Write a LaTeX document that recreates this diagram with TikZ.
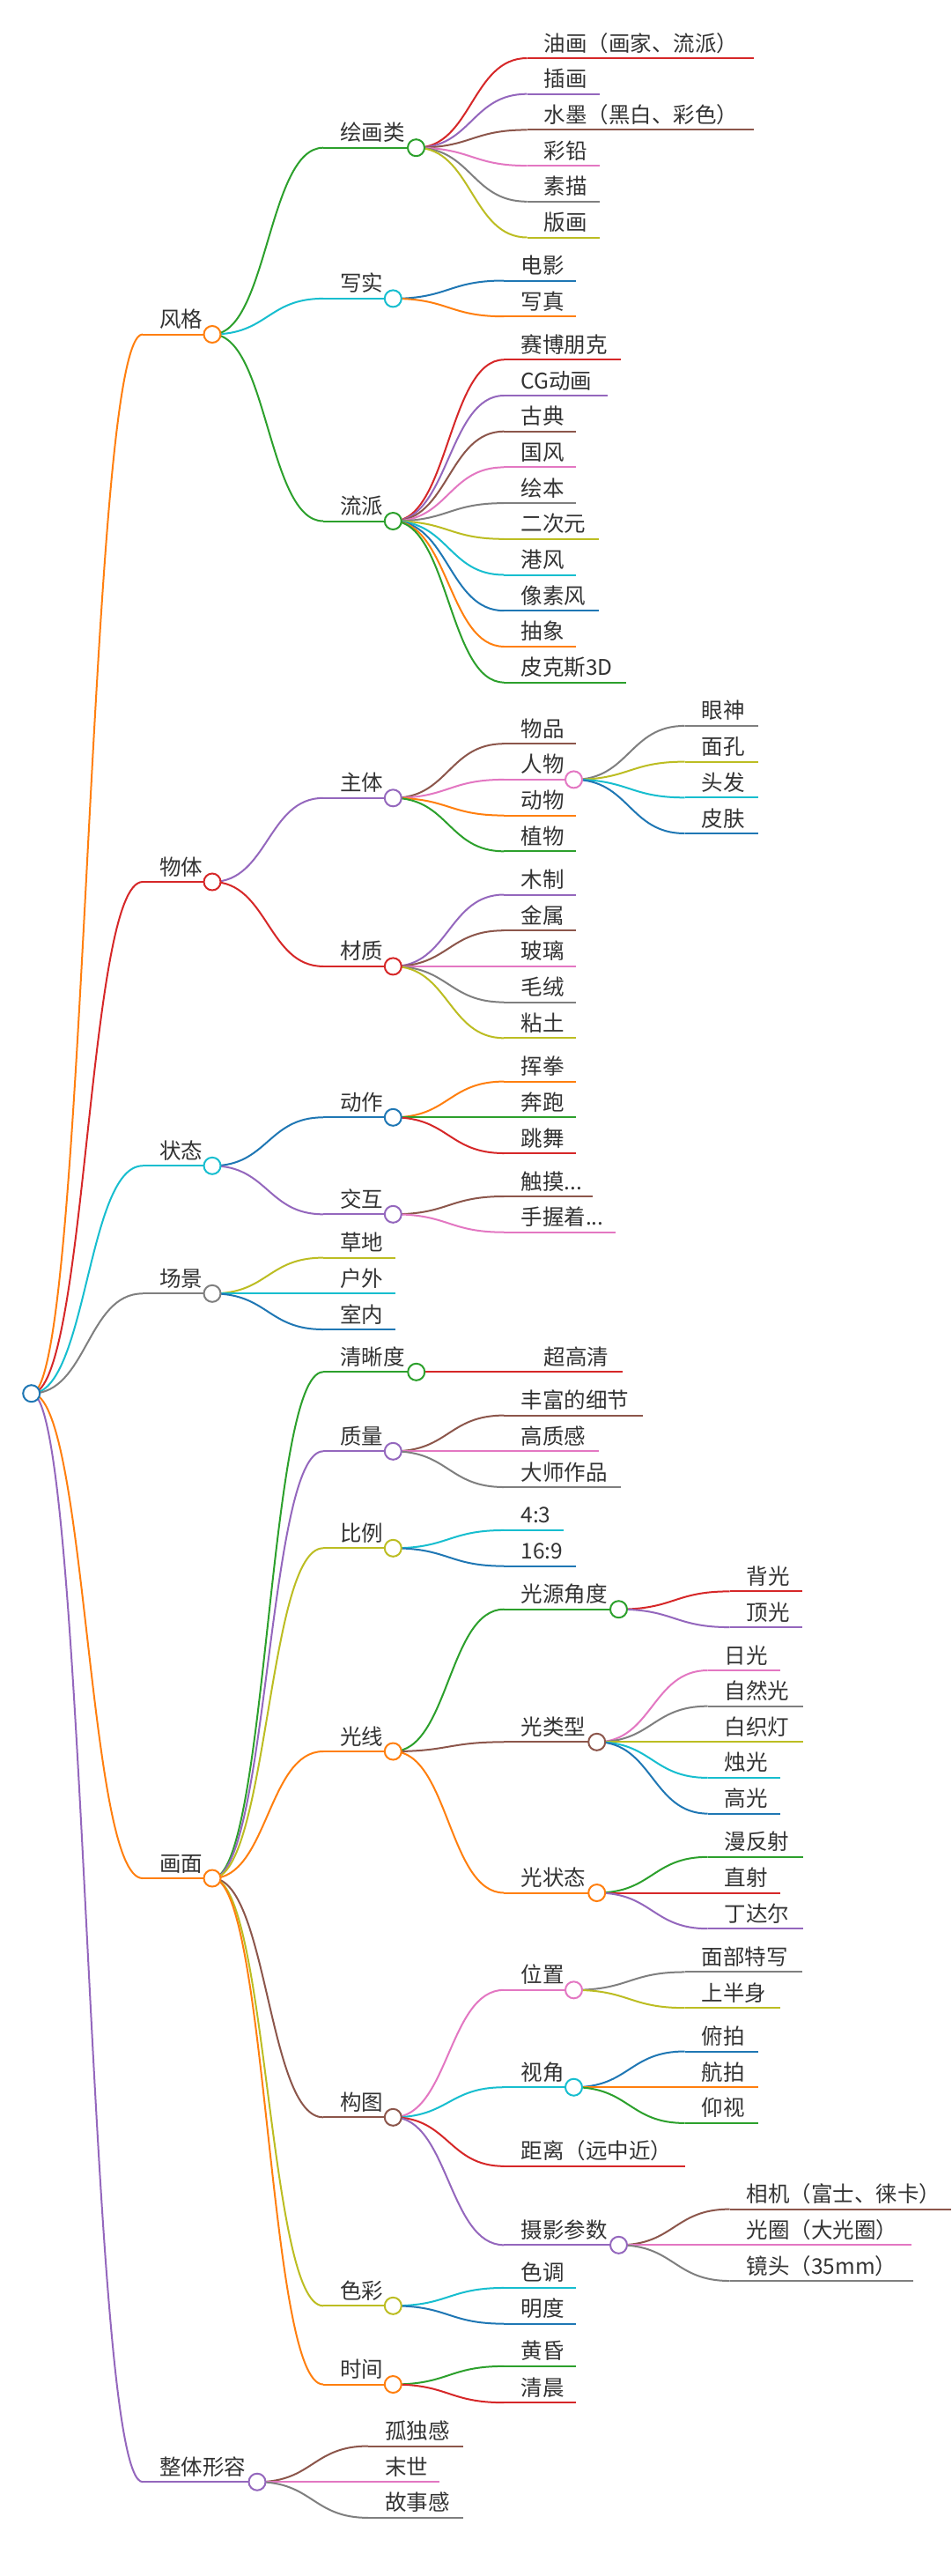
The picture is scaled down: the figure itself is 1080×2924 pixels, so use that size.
\documentclass[tikz,border=0pt]{standalone}
\usepackage{fontspec}
\newfontfamily\cjkfont{Noto Sans CJK SC}
\usetikzlibrary{calc}
\pgfdeclarelayer{back}
\pgfdeclarelayer{bg}
\pgfsetlayers{back,bg,main}
\definecolor{cblue}{HTML}{1F77B4}
\definecolor{corange}{HTML}{FF7F0E}
\definecolor{cgreen}{HTML}{2CA02C}
\definecolor{cred}{HTML}{D62728}
\definecolor{cpurple}{HTML}{9467BD}
\definecolor{cbrown}{HTML}{8C564B}
\definecolor{cpink}{HTML}{E377C2}
\definecolor{cgray}{HTML}{7F7F7F}
\definecolor{colive}{HTML}{BCBD22}
\definecolor{ccyan}{HTML}{17BECF}
\definecolor{textgray}{HTML}{333333}
\tikzset{
  mmtext/.style={anchor=base west, inner sep=0pt, text=textgray, font=\cjkfont\fontsize{24.5}{28}\selectfont},
  mmdot/.style={circle, fill=white, line width=2pt, minimum size=19pt, inner sep=0pt},
  mmline/.style={line width=2pt, line join=round}
}
% internal node: name, startx, y, circle x, colour, label
\newcommand\mmint[6]{%
  \coordinate (#1-s) at (#2,#3);
  \node[mmtext] (#1-t) at (#2+19,#3-8) {#6};
  \node[mmdot,draw=#5] (#1) at (#4,#3) {};
  \begin{pgfonlayer}{bg}\draw[mmline,#5] (#1-s) -- (#1.center);\end{pgfonlayer}%
}
% leaf: name, startx, y, end x, colour, label
\newcommand\mmleaf[6]{%
  \coordinate (#1-s) at (#2,#3);
  \coordinate (#1-e) at (#4,#3);
  \node[mmtext] (#1-t) at (#2+19,#3-8) {#6};
  \begin{pgfonlayer}{bg}\draw[mmline,#5] (#1-s) -- (#1-e);\end{pgfonlayer}%
}
% link: parent, child, colour
\newcommand\mmlink[3]{%
  \begin{pgfonlayer}{bg}\draw[mmline,#3] let \p1=(#1.center), \p2=(#2-s) in
    (\p1) .. controls ({0.5*\x1+0.5*\x2},\y1) and ({0.5*\x1+0.5*\x2},\y2) .. (\p2);\end{pgfonlayer}%
}
\begin{document}
\begin{tikzpicture}[x=1pt,y=-1pt]
\begin{pgfonlayer}{back}
\fill[white] (0,0) rectangle (1080,2924);
\end{pgfonlayer}
\useasboundingbox (0,0) rectangle (1080,2924);

\node[mmdot,draw=cblue] (root) at (35.7,1581.7) {};

% level 1
\mmint{A}{162}{379.5}{241}{corange}{风格}
\mmint{B}{162}{1001}{241}{cred}{物体}
\mmint{C}{162}{1323.3}{241}{ccyan}{状态}
\mmint{D}{162}{1468.3}{241}{cgray}{场景}
\mmint{E}{162}{2132}{241}{corange}{画面}
\mmint{F}{162}{2817.2}{292}{cpurple}{整体形容}
\mmlink{root}{A}{corange}
\mmlink{root}{B}{cred}
\mmlink{root}{C}{ccyan}
\mmlink{root}{D}{cgray}
\mmlink{root}{E}{corange}
\mmlink{root}{F}{cpurple}

% 风格
\mmint{A1}{367}{167.7}{472.5}{cgreen}{绘画类}
\mmint{A2}{367}{338.9}{446.3}{ccyan}{写实}
\mmint{A3}{367}{591.5}{446.3}{cgreen}{流派}
\mmlink{A}{A1}{cgreen}
\mmlink{A}{A2}{ccyan}
\mmlink{A}{A3}{cgreen}

\mmleaf{A1a}{598.5}{66.0}{856}{cred}{油画（画家、流派）}
\mmleaf{A1b}{598.5}{106.7}{681}{cpurple}{插画}
\mmleaf{A1c}{598.5}{147.4}{856}{cbrown}{水墨（黑白、彩色）}
\mmleaf{A1d}{598.5}{188.1}{681}{cpink}{彩铅}
\mmleaf{A1e}{598.5}{228.8}{681}{cgray}{素描}
\mmleaf{A1f}{598.5}{269.5}{681}{colive}{版画}
\mmlink{A1}{A1a}{cred}
\mmlink{A1}{A1b}{cpurple}
\mmlink{A1}{A1c}{cbrown}
\mmlink{A1}{A1d}{cpink}
\mmlink{A1}{A1e}{cgray}
\mmlink{A1}{A1f}{colive}

\mmleaf{A2a}{572.3}{318.5}{654}{cblue}{电影}
\mmleaf{A2b}{572.3}{359.2}{654}{corange}{写真}
\mmlink{A2}{A2a}{cblue}
\mmlink{A2}{A2b}{corange}

\mmleaf{A3a}{572.3}{408.3}{705}{cred}{赛博朋克}
\mmleaf{A3b}{572.3}{449.0}{690}{cpurple}{CG动画}
\mmleaf{A3c}{572.3}{489.7}{654}{cbrown}{古典}
\mmleaf{A3d}{572.3}{530.4}{654}{cpink}{国风}
\mmleaf{A3e}{572.3}{571.1}{654}{cgray}{绘本}
\mmleaf{A3f}{572.3}{611.8}{680}{colive}{二次元}
\mmleaf{A3g}{572.3}{652.5}{654}{ccyan}{港风}
\mmleaf{A3h}{572.3}{693.2}{680}{cblue}{像素风}
\mmleaf{A3i}{572.3}{733.9}{654}{corange}{抽象}
\mmleaf{A3j}{572.3}{774.6}{711}{cgreen}{皮克斯3D}
\mmlink{A3}{A3a}{cred}
\mmlink{A3}{A3b}{cpurple}
\mmlink{A3}{A3c}{cbrown}
\mmlink{A3}{A3d}{cpink}
\mmlink{A3}{A3e}{cgray}
\mmlink{A3}{A3f}{colive}
\mmlink{A3}{A3g}{ccyan}
\mmlink{A3}{A3h}{cblue}
\mmlink{A3}{A3i}{corange}
\mmlink{A3}{A3j}{cgreen}

% 物体
\mmint{B1}{367}{905.8}{446.3}{cpurple}{主体}
\mmint{B2}{367}{1096.9}{446.3}{cred}{材质}
\mmlink{B}{B1}{cpurple}
\mmlink{B}{B2}{cred}

\mmleaf{B1a}{572.3}{844.2}{654}{cbrown}{物品}
\mmint{B1b}{572.3}{884.9}{651.5}{cpink}{人物}
\mmleaf{B1c}{572.3}{925.6}{654}{corange}{动物}
\mmleaf{B1d}{572.3}{966.3}{654}{cgreen}{植物}
\mmlink{B1}{B1a}{cbrown}
\mmlink{B1}{B1b}{cpink}
\mmlink{B1}{B1c}{corange}
\mmlink{B1}{B1d}{cgreen}

\mmleaf{B1b1}{777.5}{823.9}{861}{cgray}{眼神}
\mmleaf{B1b2}{777.5}{864.6}{861}{colive}{面孔}
\mmleaf{B1b3}{777.5}{905.3}{861}{ccyan}{头发}
\mmleaf{B1b4}{777.5}{946.0}{861}{cblue}{皮肤}
\mmlink{B1b}{B1b1}{cgray}
\mmlink{B1b}{B1b2}{colive}
\mmlink{B1b}{B1b3}{ccyan}
\mmlink{B1b}{B1b4}{cblue}

\mmleaf{B2a}{572.3}{1015.5}{654}{cpurple}{木制}
\mmleaf{B2b}{572.3}{1056.2}{654}{cbrown}{金属}
\mmleaf{B2c}{572.3}{1096.9}{654}{cpink}{玻璃}
\mmleaf{B2d}{572.3}{1137.6}{654}{cgray}{毛绒}
\mmleaf{B2e}{572.3}{1178.3}{654}{colive}{粘土}
\mmlink{B2}{B2a}{cpurple}
\mmlink{B2}{B2b}{cbrown}
\mmlink{B2}{B2c}{cpink}
\mmlink{B2}{B2d}{cgray}
\mmlink{B2}{B2e}{colive}

% 状态
\mmint{C1}{367}{1268.3}{446.3}{cblue}{动作}
\mmint{C2}{367}{1378.3}{446.3}{cpurple}{交互}
\mmlink{C}{C1}{cblue}
\mmlink{C}{C2}{cpurple}

\mmleaf{C1a}{572.3}{1227.6}{654}{corange}{挥拳}
\mmleaf{C1b}{572.3}{1268.3}{654}{cgreen}{奔跑}
\mmleaf{C1c}{572.3}{1309.0}{654}{cred}{跳舞}
\mmlink{C1}{C1a}{corange}
\mmlink{C1}{C1b}{cgreen}
\mmlink{C1}{C1c}{cred}

\mmleaf{C2a}{572.3}{1358.0}{673}{cbrown}{触摸...}
\mmleaf{C2b}{572.3}{1398.7}{699}{cpink}{手握着...}
\mmlink{C2}{C2a}{cbrown}
\mmlink{C2}{C2b}{cpink}

% 场景
\mmleaf{D1}{367}{1427.6}{449}{colive}{草地}
\mmleaf{D2}{367}{1468.3}{449}{ccyan}{户外}
\mmleaf{D3}{367}{1509.0}{449}{cblue}{室内}
\mmlink{D}{D1}{colive}
\mmlink{D}{D2}{ccyan}
\mmlink{D}{D3}{cblue}

% 画面
\mmint{E1}{367}{1557.3}{472.7}{cgreen}{清晰度}
\mmint{E2}{367}{1647.3}{446.3}{cpurple}{质量}
\mmint{E3}{367}{1757.3}{446.3}{colive}{比例}
\mmint{E4}{367}{1988.0}{446.3}{corange}{光线}
\mmint{E5}{367}{2403.3}{446.3}{cbrown}{构图}
\mmint{E6}{367}{2617.3}{446.3}{colive}{色彩}
\mmint{E7}{367}{2706.5}{446.3}{corange}{时间}
\mmlink{E}{E1}{cgreen}
\mmlink{E}{E2}{cpurple}
\mmlink{E}{E3}{colive}
\mmlink{E}{E4}{corange}
\mmlink{E}{E5}{cbrown}
\mmlink{E}{E6}{colive}
\mmlink{E}{E7}{corange}

\mmleaf{E1a}{598.7}{1557.3}{707.3}{cred}{超高清}
\mmlink{E1}{E1a}{cred}

\mmleaf{E2a}{572.3}{1606.6}{730}{cbrown}{丰富的细节}
\mmleaf{E2b}{572.3}{1647.3}{680}{cpink}{高质感}
\mmleaf{E2c}{572.3}{1688.0}{705}{cgray}{大师作品}
\mmlink{E2}{E2a}{cbrown}
\mmlink{E2}{E2b}{cpink}
\mmlink{E2}{E2c}{cgray}

\mmleaf{E3a}{572.3}{1736.95}{640}{ccyan}{4:3}
\mmleaf{E3b}{572.3}{1777.65}{654}{cblue}{16:9}
\mmlink{E3}{E3a}{ccyan}
\mmlink{E3}{E3b}{cblue}

\mmint{E4a}{572.3}{1826.7}{702.5}{cgreen}{光源角度}
\mmint{E4b}{572.3}{1977.3}{677.7}{cbrown}{光类型}
\mmint{E4c}{572.3}{2148.5}{677.7}{corange}{光状态}
\mmlink{E4}{E4a}{cgreen}
\mmlink{E4}{E4b}{cbrown}
\mmlink{E4}{E4c}{corange}

\mmleaf{E4a1}{828.5}{1806.35}{911}{cred}{背光}
\mmleaf{E4a2}{828.5}{1847.05}{911}{cpurple}{顶光}
\mmlink{E4a}{E4a1}{cred}
\mmlink{E4a}{E4a2}{cpurple}

\mmleaf{E4b1}{803.7}{1896.0}{886}{cpink}{日光}
\mmleaf{E4b2}{803.7}{1936.65}{912}{cgray}{自然光}
\mmleaf{E4b3}{803.7}{1977.3}{912}{colive}{白织灯}
\mmleaf{E4b4}{803.7}{2017.95}{886}{ccyan}{烛光}
\mmleaf{E4b5}{803.7}{2058.6}{886}{cblue}{高光}
\mmlink{E4b}{E4b1}{cpink}
\mmlink{E4b}{E4b2}{cgray}
\mmlink{E4b}{E4b3}{colive}
\mmlink{E4b}{E4b4}{ccyan}
\mmlink{E4b}{E4b5}{cblue}

\mmleaf{E4c1}{803.7}{2107.8}{912}{cgreen}{漫反射}
\mmleaf{E4c2}{803.7}{2148.5}{886}{cred}{直射}
\mmleaf{E4c3}{803.7}{2189.2}{912}{cpurple}{丁达尔}
\mmlink{E4c}{E4c1}{cgreen}
\mmlink{E4c}{E4c2}{cred}
\mmlink{E4c}{E4c3}{cpurple}

\mmint{E5a}{572.3}{2258.8}{651.5}{cpink}{位置}
\mmint{E5b}{572.3}{2369.2}{651.5}{ccyan}{视角}
\mmleaf{E5c}{572.3}{2458.8}{778}{cred}{距离（远中近）}
\mmint{E5d}{572.3}{2548.3}{702.5}{cpurple}{摄影参数}
\mmlink{E5}{E5a}{cpink}
\mmlink{E5}{E5b}{ccyan}
\mmlink{E5}{E5c}{cred}
\mmlink{E5}{E5d}{cpurple}

\mmleaf{E5a1}{777.5}{2238.45}{911}{cgray}{面部特写}
\mmleaf{E5a2}{777.5}{2279.15}{886}{colive}{上半身}
\mmlink{E5a}{E5a1}{cgray}
\mmlink{E5a}{E5a2}{colive}

\mmleaf{E5b1}{777.5}{2328.5}{861}{cblue}{俯拍}
\mmleaf{E5b2}{777.5}{2369.2}{861}{corange}{航拍}
\mmleaf{E5b3}{777.5}{2409.9}{861}{cgreen}{仰视}
\mmlink{E5b}{E5b1}{cblue}
\mmlink{E5b}{E5b2}{corange}
\mmlink{E5b}{E5b3}{cgreen}

\mmleaf{E5d1}{828.5}{2507.6}{1080}{cbrown}{相机（富士、徕卡）}
\mmleaf{E5d2}{828.5}{2548.3}{1035}{cpink}{光圈（大光圈）}
\mmleaf{E5d3}{828.5}{2589.0}{1037}{cgray}{镜头（35mm）}
\mmlink{E5d}{E5d1}{cbrown}
\mmlink{E5d}{E5d2}{cpink}
\mmlink{E5d}{E5d3}{cgray}

\mmleaf{E6a}{572.3}{2596.95}{654}{ccyan}{色调}
\mmleaf{E6b}{572.3}{2637.65}{654}{cblue}{明度}
\mmlink{E6}{E6a}{ccyan}
\mmlink{E6}{E6b}{cblue}

\mmleaf{E7a}{572.3}{2685.85}{654}{cgreen}{黄昏}
\mmleaf{E7b}{572.3}{2727.15}{654}{cred}{清晨}
\mmlink{E7}{E7a}{cgreen}
\mmlink{E7}{E7b}{cred}

% 整体形容
\mmleaf{F1}{418}{2776.5}{526}{cbrown}{孤独感}
\mmleaf{F2}{418}{2817.2}{499}{cpink}{末世}
\mmleaf{F3}{418}{2857.9}{526}{cgray}{故事感}
\mmlink{F}{F1}{cbrown}
\mmlink{F}{F2}{cpink}
\mmlink{F}{F3}{cgray}
\end{tikzpicture}
\end{document}
